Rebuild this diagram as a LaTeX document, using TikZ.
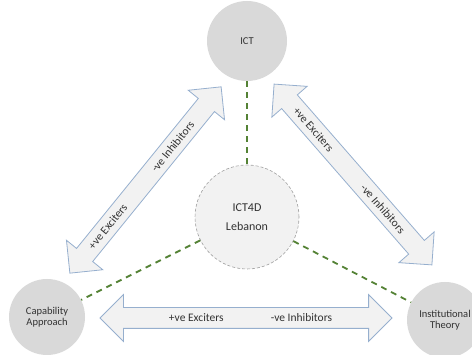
\documentclass[tikz,border=0pt]{standalone}
\usepackage{fontspec}
\setmainfont{Carlito}
\usetikzlibrary{shapes.arrows}
\definecolor{circgray}{RGB}{217,217,217}
\definecolor{hubgray}{RGB}{242,242,242}
\definecolor{arrowline}{RGB}{150,175,206}
\definecolor{linkgreen}{RGB}{84,130,53}
\definecolor{txt}{RGB}{50,50,50}
\tikzstyle{Th} = [circle,fill=circgray,draw=none,text=txt,align=center,inner sep=0pt,font=\fontsize{10.5}{11.5}\selectfont]
\tikzstyle{Hub} = [circle,fill=hubgray,draw=gray!75,dashed,dash pattern=on 3pt off 2pt,line width=.6pt,text=txt,align=center,inner sep=0pt,font=\fontsize{12}{14}\selectfont]
\tikzstyle{Ar} = [double arrow,fill=hubgray,draw=arrowline,line width=.8pt,double arrow head extend=13pt,inner xsep=0pt,inner ysep=10pt]
\tikzstyle{Tx} = [text=txt,inner sep=0pt,font=\fontsize{11.5}{13}\selectfont]
\tikzstyle{Lk} = [draw=linkgreen,line width=1.8pt,dash pattern=on 6pt off 5pt]

\begin{document}
\begin{tikzpicture}[x=1pt,y=-1pt]
  \useasboundingbox (0,0) rectangle (472,355);
  % the four circles
  \node [Th,minimum size=80pt] (ict) at (247,41) {ICT};
  \node [Hub,minimum size=104pt] (hub) at (247,217) {ICT4D\\[5pt]Lebanon};
  \node [Th,minimum size=76pt] (cap) at (47,317) {Capability\\Approach};
  \node [Th,minimum size=76pt] (inst) at (445,320) {Institutional\\Theory};

  % dashed links to the hub
  \draw [Lk] (ict) -- (hub);
  \draw [Lk] (hub) -- (cap);
  \draw [Lk] (hub) -- (inst);

  % double arrows between the theories
  \coordinate (capA) at (70,273);
  \coordinate (ictA) at (221,87);
  \coordinate (ictB) at (274,84);
  \coordinate (instB) at (432,265);
  \coordinate (capC) at (100,318);
  \coordinate (instC) at (392,318);

  \path (capA) -- (ictA)
    node [Ar,sloped,midway,minimum height=240pt] (arL) {}
    node [Tx,sloped,pos=.25] {+ve Exciters}
    node [Tx,sloped,pos=.68] {-ve Inhibitors};
  \path (ictB) -- (instB)
    node [Ar,sloped,midway,minimum height=240pt] (arR) {}
    node [Tx,sloped,pos=.25] {+ve Exciters}
    node [Tx,sloped,pos=.69] {-ve Inhibitors};
  \path (capC) -- (instC)
    node [Ar,sloped,midway,minimum height=292pt] (arB) {}
    node [Tx,sloped,pos=.33] {+ve Exciters}
    node [Tx,sloped,pos=.69] {-ve Inhibitors};
\end{tikzpicture}
\end{document}
